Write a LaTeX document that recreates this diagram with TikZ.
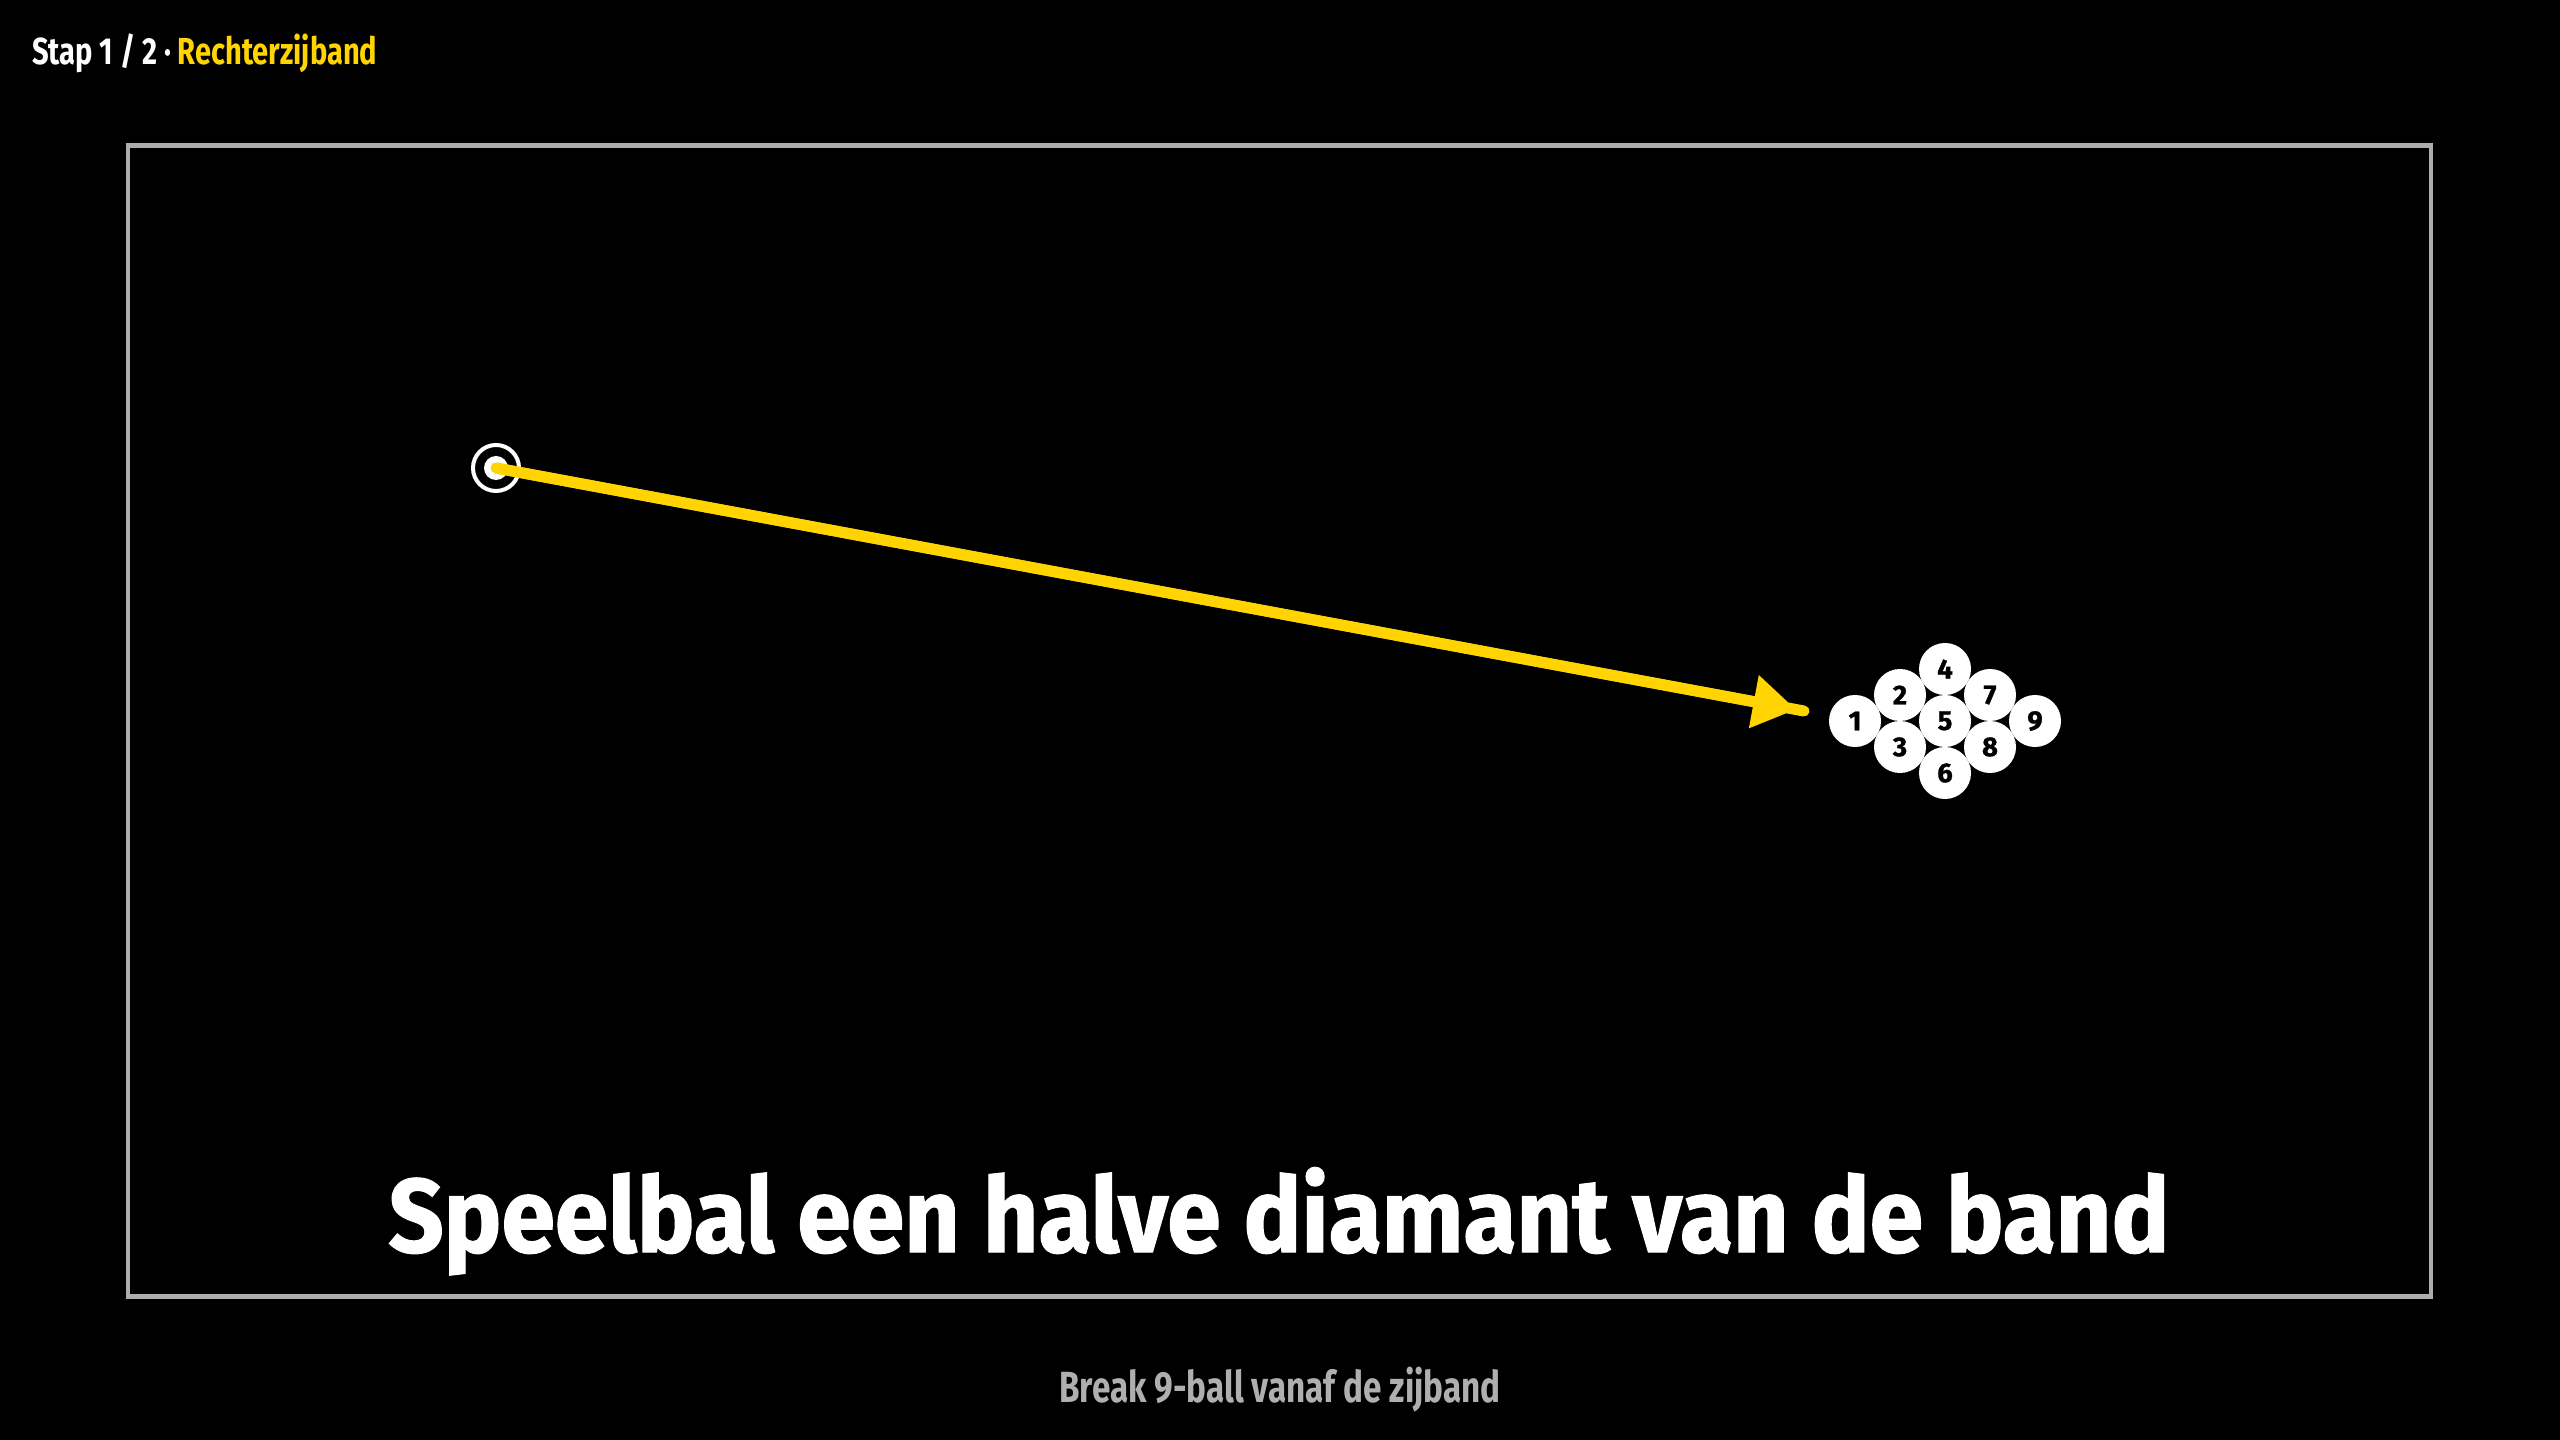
\documentclass[tikz,border=0pt]{standalone}
\usepackage{fontspec}
\setmainfont{Fira Sans}
\usetikzlibrary{arrows.meta}
\definecolor{cueyellow}{HTML}{FFD400}
\definecolor{railgrey}{HTML}{ADADAD}
\definecolor{footgrey}{HTML}{AFAFAF}
\tikzset{
  rail/.style={draw=railgrey, line width=0.045cm},
  aimline/.style={draw=cueyellow, line width=0.11cm, line cap=round},
  rackball/.style={circle, fill=white, inner sep=0pt, minimum size=0.52cm,
    text=black, font=\fontsize{7.8pt}{8pt}\selectfont\bfseries\addfontfeature{FakeBold=1}},
  cueball/.style={circle, draw=white, line width=0.04cm, inner sep=0pt, minimum size=0.46cm},
  label/.style={inner sep=0pt, outer sep=0pt}
}
\begin{document}
\begin{tikzpicture}[x=0.01cm,y=-0.01cm]
\useasboundingbox (0,0) rectangle (2560,1440);
\fill[black] (0,0) rectangle (2560,1440);
% table rail
\draw[rail] (128,145.5) rectangle (2431,1296.5);
% header
\node[label, anchor=base west] (header) at (32,65)
  {\resizebox{3.45cm}{\height}{\fontsize{10.7pt}{12pt}\selectfont\bfseries
   \textcolor{white}{Stap 1 / 2 ·} \textcolor{cueyellow}{Rechterzijband}}};
% cue ball
\node[cueball] (cue) at (496,468) {};
\fill[white] (cue.center) circle (12);
% rack
\node[rackball] (b1) at (1855,721) {1};
\node[rackball] (b2) at (1900,695) {2};
\node[rackball] (b3) at (1900,747) {3};
\node[rackball] (b4) at (1945,669) {4};
\node[rackball] (b5) at (1945,721) {5};
\node[rackball] (b6) at (1945,773) {6};
\node[rackball] (b7) at (1990,695) {7};
\node[rackball] (b8) at (1990,747) {8};
\node[rackball] (b9) at (2035,721) {9};
% aim line
\coordinate (aimend) at (1804,711);
\draw[aimline] (cue.center) -- (aimend);
\draw[aimline, line cap=butt, -{Triangle[length=0.43cm,width=0.51cm]}, shorten >=0.08cm] (cue.center) -- (aimend);
% caption
\node[label, anchor=base, text=white] (caption) at (1279,1252)
  {\resizebox{17.8cm}{\height}{\fontsize{29.7pt}{32pt}\selectfont\bfseries\addfontfeature{FakeBold=1.2} Speelbal een halve diamant van de band}};
% footer
\node[label, anchor=base, text=footgrey] (footer) at (1280,1402)
  {\resizebox{4.41cm}{\height}{\fontsize{12.4pt}{14pt}\selectfont\bfseries Break 9-ball vanaf de zijband}};
\end{tikzpicture}
\end{document}
